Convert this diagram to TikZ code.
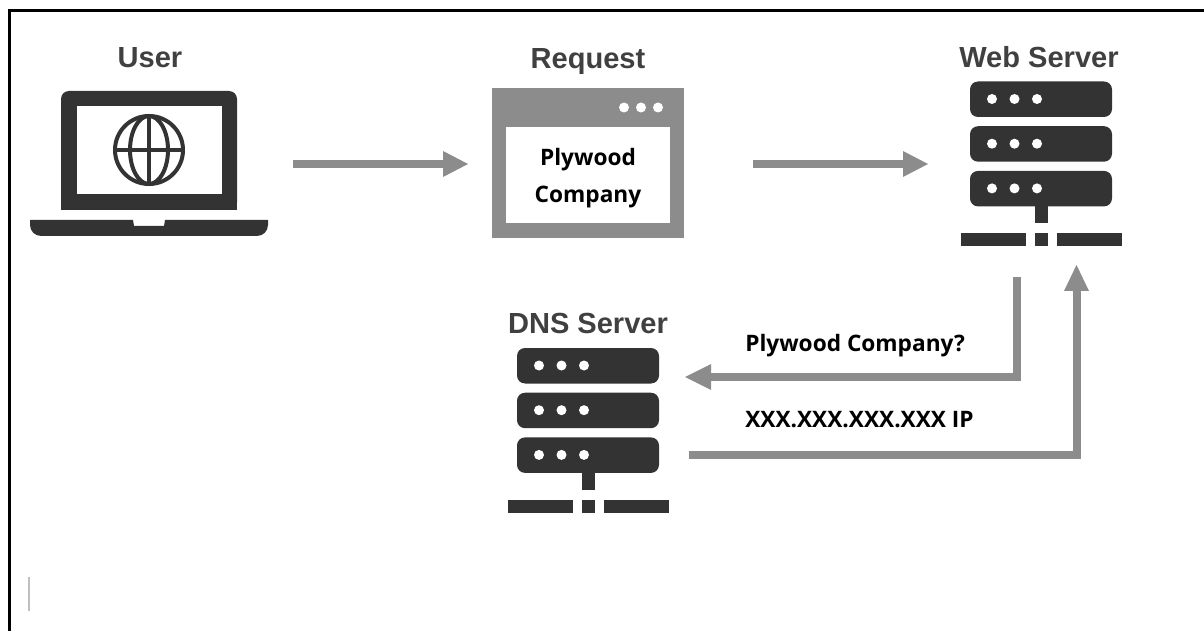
\documentclass[tikz,border=0pt]{standalone}
\usepackage{fontspec}
\setmainfont{Open Sans}
\newfontfamily\headfont{Liberation Sans}
\definecolor{icon}{HTML}{333333}
\definecolor{flow}{HTML}{8C8C8C}
\definecolor{head}{HTML}{404040}
\tikzset{
  x=0.75pt,y=-0.75pt,
  title/.style={font=\headfont\fontsize{21.8}{24}\selectfont\bfseries,text=head,inner sep=0pt,anchor=base},
  caption/.style={font=\fontsize{17}{20}\selectfont\bfseries,text=black,inner sep=0pt,anchor=base},
  flowline/.style={draw=flow,line width=6pt,line join=miter},
  flowhead/.style={fill=flow,draw=none},
  rack/.style={fill=icon,rounded corners=6pt,draw=none},
  darkfill/.style={fill=icon,draw=none},
  led/.style={fill=white,draw=none},
}
\newcommand{\serverglyph}[2]{%
  \begin{scope}[shift={(#1,#2)}]
    \foreach \yy in {0,44.7,89.4}{
      \fill[rack] (0,\yy) rectangle (142,\yy+35.5);
      \foreach \xx in {22,44.5,67}{\fill[led] (\xx,\yy+17.5) circle (5);}
    }
    \fill[darkfill] (64.5,124) rectangle (78,141.5);
    \fill[darkfill] (-9,151.5) rectangle (56,165);
    \fill[darkfill] (64.5,151.5) rectangle (78,165);
    \fill[darkfill] (87,151.5) rectangle (152,165);
  \end{scope}}
\begin{document}
\begin{tikzpicture}
\useasboundingbox (0,0) rectangle (1204,631);
\fill[white] (0,0) rectangle (1204,631);
% outer frame
\draw[black,line width=1.7pt] (9.5,631) -- (9.5,10.5) -- (1204,10.5);
\draw[black!25,line width=1.1pt] (29,577) -- (29,611);
% titles
\node[title] (tuser) at (150,68) {User};
\node[title] (treq) at (588,69) {Request};
\node[title] (tweb) at (1039,67.5) {Web Server};
\node[title] (tdns) at (588,333) {DNS Server};
% laptop
\fill[darkfill,rounded corners=6pt] (61,210) -- (61,91) -- (237,91) -- (237,210) -- cycle;
\fill[darkfill] (61,195) rectangle (237,210);
\fill[white] (76.5,106) rectangle (221.5,194.3);
\fill[darkfill,rounded corners=0pt] (30,220) -- (133,220) -- (134,226) -- (164,226) -- (165,220) -- (268,220) -- (268,225) arc (0:90:11) -- (41,236) arc (90:180:11) -- cycle;
\begin{scope}[draw=icon,line width=3pt]
  \draw (149,150) circle (34);
  \draw (149,150) ellipse (19 and 34);
  \draw (149,116) -- (149,184);
  \draw (115,150) -- (183,150);
\end{scope}
% request window
\fill[flow] (492,88) rectangle (684,238);
\fill[white] (506,127) rectangle (670,223);
\foreach \xx in {624,641,658}{\fill[white] (\xx,107.5) circle (5);}
\node[caption] (ply) at (588,166) {Plywood};
\node[caption] (com) at (588,203) {Company};
% servers
\serverglyph{970}{81.5}
\serverglyph{517}{348}
% flow connectors
\coordinate (a1) at (293,164);
\coordinate (a2) at (450,164);
\coordinate (b1) at (753,164);
\coordinate (b2) at (910,164);
\draw[flowline] (a1) -- (a2);
\fill[flowhead] (443,151) -- (468,164) -- (443,177) -- cycle;
\draw[flowline] (b1) -- (b2);
\fill[flowhead] (903,151) -- (928,164) -- (903,177) -- cycle;
\coordinate (c1) at (1016.5,277);
\coordinate (c2) at (1016.5,377);
\coordinate (c3) at (700,377);
\draw[flowline] (c1) -- (c2) -- (c3);
\fill[flowhead] (711,364) -- (685,377) -- (711,390) -- cycle;
\coordinate (d1) at (689,455);
\coordinate (d2) at (1076.5,455);
\coordinate (d3) at (1076.5,285);
\draw[flowline] (d1) -- (d2) -- (d3);
\fill[flowhead] (1064,291) -- (1076.5,265) -- (1089,291) -- cycle;
\node[caption,anchor=base west] (q) at (745,351) {Plywood Company?};
\node[caption,anchor=base west] (ip) at (745,427) {XXX.XXX.XXX.XXX IP};
\end{tikzpicture}
\end{document}
